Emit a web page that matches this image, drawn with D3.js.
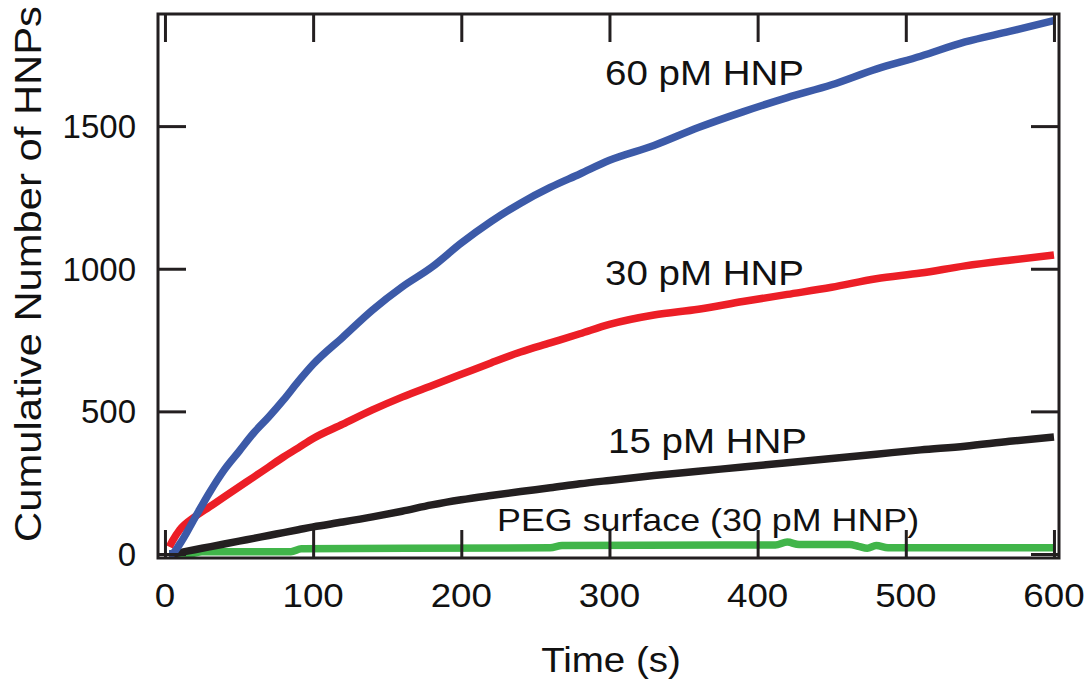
<!DOCTYPE html>
<html>
<head>
<meta charset="utf-8">
<script src="https://cdn.jsdelivr.net/npm/d3@7"></script>
<style>
  body { margin: 0; background: #fff; }
  text { font-family: "Liberation Sans", Arial, sans-serif; fill: #111; }
</style>
</head>
<body>
<div id="chart"></div>
<script>

// sample times (s) shared by the three HNP curves
var times = [3, 5, 10, 20, 30, 40, 50, 60, 70, 80, 90, 100, 120, 140, 160, 180, 200,
  220, 240, 260, 280, 300, 330, 360, 390, 420, 450, 480, 510, 540, 570, 600];

var hnp60 = [0, 2, 35, 125, 215, 295, 360, 425, 480, 540, 605, 665, 760, 855, 936, 1005, 1090,
  1165, 1230, 1285, 1332, 1380, 1432, 1495, 1550, 1600, 1645, 1700, 1745, 1795, 1832, 1870];

var hnp30 = [25, 45, 85, 130, 165, 200, 235, 270, 305, 340, 372, 405, 455, 505, 550, 590, 630,
  670, 708, 740, 772, 805, 838, 858, 885, 910, 935, 965, 985, 1010, 1030, 1048];

var hnp15 = [0, 0, 5, 15, 25, 35, 45, 55, 65, 75, 85, 95, 112, 130, 150, 172, 190,
  205, 219, 232, 246, 258, 275, 290, 305, 320, 335, 350, 365, 378, 395, 410];

// PEG control surface has its own sampling (steps and a couple of wiggles)
var pegTimes = [3, 18, 25, 85, 92, 260, 268, 412, 420, 428, 462, 468, 474, 480, 488, 600];
var pegValues = [0, 2, 8, 8, 18, 22, 30, 32, 42, 33, 33, 27, 20, 30, 22, 22];

var xTicks = [0, 100, 200, 300, 400, 500, 600];
var yTicks = [0, 500, 1000, 1500];

var series = [
  { name: '60 pM HNP', t: times, v: hnp60, color: '#3c5aa8' },
  { name: '30 pM HNP', t: times, v: hnp30, color: '#ec1e26' },
  { name: '15 pM HNP', t: times, v: hnp15, color: '#231f20' },
  { name: 'PEG surface (30 pM HNP)', t: pegTimes, v: pegValues, color: '#41b54a' }
];

var attrs = {
  svgWidth: 1091,
  svgHeight: 683,
  left: 158,
  right: 1059,
  top: 14,
  bottom: 558,
  tickLen: 28
};

var svg = d3.select('#chart').append('svg')
  .attr('width', attrs.svgWidth)
  .attr('height', attrs.svgHeight);

var x = d3.scaleLinear().domain([-4.7, 603.4]).range([attrs.left, attrs.right]);
var y = d3.scaleLinear().domain([-14, 1893]).range([attrs.bottom, attrs.top]);

// data lines
var line = d3.line()
  .curve(d3.curveMonotoneX)
  .x(function (d) { return x(d[0]); })
  .y(function (d) { return y(d[1]); });

// draw green first so the others sit above it
series.slice().reverse().forEach(function (s) {
  svg.append('path')
    .datum(s.t.map(function (t, i) { return [t, s.v[i]]; }))
    .attr('fill', 'none')
    .attr('stroke', s.color)
    .attr('stroke-width', 7.5)
    .attr('stroke-linejoin', 'round')
    .attr('stroke-linecap', 'butt')
    .attr('d', line);
});

// frame
svg.append('rect')
  .attr('x', attrs.left).attr('y', attrs.top)
  .attr('width', attrs.right - attrs.left)
  .attr('height', attrs.bottom - attrs.top)
  .attr('fill', 'none')
  .attr('stroke', '#231f20')
  .attr('stroke-width', 3);

// axes, ticks pointing inward on all four sides
function styleAxis(g) {
  g.select('.domain').remove();
  g.selectAll('.tick line').attr('stroke', '#231f20').attr('stroke-width', 3);
}

svg.append('g')
  .attr('transform', 'translate(0,' + attrs.bottom + ')')
  .call(d3.axisBottom(x).tickValues(xTicks).tickSize(-attrs.tickLen).tickFormat(''))
  .call(styleAxis);
svg.append('g')
  .attr('transform', 'translate(0,' + attrs.top + ')')
  .call(d3.axisTop(x).tickValues(xTicks).tickSize(-attrs.tickLen).tickFormat(''))
  .call(styleAxis);
svg.append('g')
  .attr('transform', 'translate(' + attrs.left + ',0)')
  .call(d3.axisLeft(y).tickValues(yTicks).tickSize(-attrs.tickLen).tickFormat(''))
  .call(styleAxis);
svg.append('g')
  .attr('transform', 'translate(' + attrs.right + ',0)')
  .call(d3.axisRight(y).tickValues(yTicks).tickSize(-attrs.tickLen).tickFormat(''))
  .call(styleAxis);

// text helper: horizontally stretched text (reference font is wider than Arial)
function label(px, py, str, size, anchor, stretch, rotate) {
  var g = svg.append('g')
    .attr('transform', 'translate(' + px + ',' + py + ')' + (rotate ? ' rotate(' + rotate + ')' : '') + ' scale(' + stretch + ',1)');
  return g.append('text')
    .attr('text-anchor', anchor)
    .style('font-size', size + 'px')
    .text(str);
}

// tick labels
xTicks.forEach(function (t) {
  label(x(t), 607, t, 34, 'middle', 1.08, 0);
});
yTicks.forEach(function (v) {
  label(136, y(v) + 12, v, 33, 'end', 1.0, 0);
});

// axis titles
label(611, 672, 'Time (s)', 35, 'middle', 1.1, 0);
label(41, 274, 'Cumulative Number of HNPs', 36, 'middle', 1.16, -90);

// curve labels
label(605, 85, '60 pM HNP', 35, 'start', 1.1, 0);
label(605, 285, '30 pM HNP', 35, 'start', 1.1, 0);
label(608, 453, '15 pM HNP', 35, 'start', 1.1, 0);
label(497, 531, 'PEG surface (30 pM HNP)', 32, 'start', 1.12, 0);

</script>
</body>
</html>
